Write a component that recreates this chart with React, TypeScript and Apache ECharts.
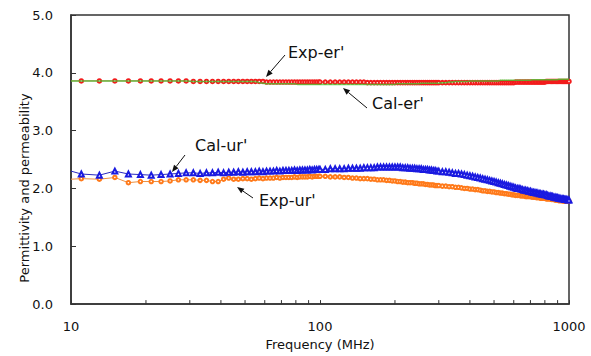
import { useEffect, useRef } from "react";
import * as echarts from "echarts";

// Frequency sweep points (MHz)
const freqMHz = [
  10,
  11, 13, 15, 17, 19, 21, 23, 25, 27, 29,
  31, 33, 35, 37, 39, 41, 43, 45, 47, 49,
  51, 53, 55, 57, 59, 61, 63, 65, 67, 69,
  71, 73, 75, 77, 79, 81, 83, 85, 87, 89,
  91, 93, 95, 97, 99,
  100, 105, 110, 115, 120, 125, 130, 135, 140, 145,
  150, 155, 160, 165, 170, 175, 180, 185, 190, 195,
  200, 205, 210, 215, 220, 225, 230, 235, 240, 245,
  250, 255, 260, 265, 270, 275, 280, 285, 290, 295,
  300,
  310, 320, 330, 340, 350, 360, 370, 380, 390, 400,
  410, 420, 430, 440, 450, 460, 470, 480, 490, 500,
  510, 520, 530, 540, 550, 560, 570, 580, 590, 600,
  610, 620, 630, 640, 650, 660, 670, 680, 690, 700,
  710, 720, 730, 740, 750, 760, 770, 780, 790, 800,
  810, 820, 830, 840, 850, 860, 870, 880, 890, 900,
  910, 920, 930, 940, 950, 960, 970, 980, 990, 1000,
];

const expErP = [
  3.86,
  3.86, 3.86, 3.86, 3.86, 3.86, 3.86, 3.86, 3.86, 3.86, 3.86,
  3.85, 3.85, 3.85, 3.85, 3.85, 3.85, 3.85, 3.85, 3.85, 3.85,
  3.85, 3.85, 3.85, 3.85, 3.85, 3.84, 3.84, 3.84, 3.84, 3.84,
  3.84, 3.84, 3.84, 3.84, 3.84, 3.84, 3.84, 3.84, 3.84, 3.84,
  3.84, 3.84, 3.84, 3.84, 3.84,
  3.84, 3.84, 3.84, 3.84, 3.84, 3.84, 3.84, 3.84, 3.84, 3.84,
  3.84, 3.83, 3.83, 3.83, 3.83, 3.83, 3.83, 3.83, 3.83, 3.83,
  3.83, 3.83, 3.83, 3.83, 3.83, 3.83, 3.83, 3.83, 3.83, 3.83,
  3.83, 3.83, 3.83, 3.83, 3.83, 3.83, 3.83, 3.83, 3.83, 3.83,
  3.83,
  3.83, 3.83, 3.83, 3.83, 3.83, 3.83, 3.83, 3.83, 3.83, 3.83,
  3.83, 3.83, 3.83, 3.83, 3.83, 3.83, 3.83, 3.83, 3.83, 3.83,
  3.83, 3.83, 3.83, 3.83, 3.83, 3.83, 3.83, 3.83, 3.83, 3.83,
  3.84, 3.84, 3.84, 3.84, 3.84, 3.84, 3.84, 3.84, 3.84, 3.84,
  3.84, 3.84, 3.84, 3.84, 3.84, 3.84, 3.84, 3.84, 3.84, 3.84,
  3.85, 3.85, 3.85, 3.85, 3.85, 3.85, 3.85, 3.85, 3.85, 3.85,
  3.85, 3.85, 3.85, 3.85, 3.85, 3.85, 3.85, 3.85, 3.85, 3.85,
];

const calErP = [
  3.86,
  3.86, 3.86, 3.86, 3.86, 3.86, 3.86, 3.86, 3.86, 3.86, 3.86,
  3.85, 3.85, 3.85, 3.85, 3.85, 3.85, 3.85, 3.85, 3.85, 3.85,
  3.85, 3.85, 3.85, 3.83, 3.82, 3.81, 3.81, 3.81, 3.81, 3.81,
  3.81, 3.81, 3.81, 3.81, 3.81, 3.80, 3.80, 3.80, 3.80, 3.80,
  3.80, 3.80, 3.80, 3.80, 3.80,
  3.80, 3.80, 3.80, 3.80, 3.80, 3.80, 3.80, 3.80, 3.80, 3.80,
  3.80, 3.80, 3.80, 3.80, 3.80, 3.80, 3.80, 3.80, 3.80, 3.80,
  3.80, 3.81, 3.81, 3.81, 3.81, 3.81, 3.81, 3.81, 3.81, 3.81,
  3.81, 3.82, 3.82, 3.82, 3.82, 3.82, 3.82, 3.82, 3.82, 3.82,
  3.82,
  3.83, 3.83, 3.84, 3.84, 3.85, 3.85, 3.85, 3.85, 3.85, 3.86,
  3.86, 3.86, 3.86, 3.86, 3.86, 3.86, 3.86, 3.86, 3.86, 3.86,
  3.86, 3.86, 3.87, 3.87, 3.87, 3.87, 3.87, 3.87, 3.87, 3.87,
  3.87, 3.87, 3.87, 3.87, 3.87, 3.87, 3.87, 3.87, 3.87, 3.87,
  3.88, 3.88, 3.88, 3.88, 3.88, 3.88, 3.88, 3.88, 3.88, 3.88,
  3.88, 3.88, 3.88, 3.88, 3.88, 3.88, 3.88, 3.88, 3.88, 3.88,
  3.89, 3.89, 3.89, 3.89, 3.89, 3.89, 3.89, 3.89, 3.89, 3.89,
];

const calUrP = [
  2.30,
  2.25, 2.23, 2.30, 2.25, 2.24, 2.23, 2.24, 2.25, 2.26, 2.27,
  2.27, 2.26, 2.27, 2.27, 2.28, 2.27, 2.28, 2.28, 2.29, 2.28,
  2.29, 2.29, 2.29, 2.30, 2.29, 2.30, 2.30, 2.30, 2.31, 2.30,
  2.31, 2.31, 2.31, 2.31, 2.32, 2.31, 2.32, 2.32, 2.32, 2.32,
  2.33, 2.32, 2.33, 2.33, 2.33,
  2.33, 2.33, 2.34, 2.34, 2.34, 2.34, 2.35, 2.35, 2.35, 2.35,
  2.36, 2.36, 2.36, 2.36, 2.37, 2.37, 2.37, 2.37, 2.37, 2.37,
  2.37, 2.37, 2.37, 2.36, 2.36, 2.36, 2.35, 2.35, 2.35, 2.34,
  2.34, 2.34, 2.33, 2.33, 2.33, 2.32, 2.32, 2.31, 2.31, 2.30,
  2.30,
  2.29, 2.29, 2.28, 2.27, 2.26, 2.26, 2.25, 2.24, 2.23, 2.22,
  2.21, 2.20, 2.19, 2.18, 2.17, 2.16, 2.15, 2.14, 2.13, 2.12,
  2.11, 2.10, 2.09, 2.08, 2.07, 2.06, 2.05, 2.04, 2.03, 2.02,
  2.01, 2.00, 2.00, 1.99, 1.98, 1.97, 1.97, 1.96, 1.95, 1.95,
  1.94, 1.93, 1.93, 1.92, 1.92, 1.91, 1.91, 1.90, 1.90, 1.89,
  1.89, 1.88, 1.87, 1.87, 1.86, 1.86, 1.85, 1.85, 1.84, 1.84,
  1.83, 1.83, 1.82, 1.82, 1.82, 1.81, 1.81, 1.81, 1.80, 1.80,
];

const expUrP = [
  2.16,
  2.17, 2.16, 2.19, 2.10, 2.12, 2.12, 2.12, 2.13, 2.15, 2.15,
  2.15, 2.14, 2.14, 2.12, 2.12, 2.16, 2.18, 2.16, 2.16, 2.17,
  2.17, 2.16, 2.17, 2.18, 2.17, 2.18, 2.18, 2.18, 2.19, 2.18,
  2.19, 2.19, 2.19, 2.19, 2.20, 2.19, 2.20, 2.20, 2.20, 2.20,
  2.21, 2.20, 2.21, 2.21, 2.21,
  2.21, 2.21, 2.20, 2.20, 2.20, 2.19, 2.19, 2.18, 2.18, 2.17,
  2.17, 2.17, 2.16, 2.16, 2.15, 2.15, 2.15, 2.14, 2.14, 2.13,
  2.13, 2.12, 2.12, 2.11, 2.11, 2.10, 2.10, 2.10, 2.09, 2.09,
  2.08, 2.08, 2.08, 2.07, 2.07, 2.06, 2.06, 2.06, 2.05, 2.05,
  2.05,
  2.04, 2.04, 2.03, 2.03, 2.02, 2.02, 2.01, 2.00, 2.00, 1.99,
  1.99, 1.98, 1.98, 1.97, 1.96, 1.96, 1.95, 1.95, 1.94, 1.94,
  1.93, 1.93, 1.92, 1.92, 1.91, 1.91, 1.90, 1.90, 1.89, 1.89,
  1.88, 1.88, 1.88, 1.87, 1.87, 1.87, 1.86, 1.86, 1.86, 1.86,
  1.85, 1.85, 1.85, 1.84, 1.84, 1.84, 1.83, 1.83, 1.83, 1.83,
  1.82, 1.82, 1.82, 1.82, 1.81, 1.81, 1.81, 1.80, 1.80, 1.80,
  1.79, 1.79, 1.79, 1.79, 1.78, 1.78, 1.78, 1.78, 1.78, 1.78,
];

const minorTicksMHz = [20, 30, 40, 50, 60, 70, 80, 90, 200, 300, 400, 500, 600, 700, 800, 900];

const seriesNames = ["Exp-er'", "Cal-er'", "Cal-ur'", "Exp-ur'"];

const FONT = "'DejaVu Sans', 'Liberation Sans', Arial, sans-serif";
const AXIS_COLOR = "#333333";

function toData(ys: number[]) {
  return freqMHz.map((f, i) =>
    i === 0 ? { value: [f, ys[i]], symbol: "none" } : [f, ys[i]]
  );
}

function arrow(x1: number, y1: number, x2: number, y2: number) {
  const ang = Math.atan2(y2 - y1, x2 - x1);
  const len = 7;
  const half = 2.8;
  const bx = x2 - len * Math.cos(ang);
  const by = y2 - len * Math.sin(ang);
  const px = -Math.sin(ang) * half;
  const py = Math.cos(ang) * half;
  return [
    {
      type: "line",
      shape: { x1, y1, x2: bx, y2: by },
      style: { stroke: "#111", lineWidth: 1 },
      silent: true,
    },
    {
      type: "polygon",
      shape: { points: [[x2, y2], [bx + px, by + py], [bx - px, by - py]] },
      style: { fill: "#111" },
      silent: true,
    },
  ];
}

function label(text: string, x: number, y: number) {
  return {
    type: "text",
    x,
    y,
    silent: true,
    style: {
      text,
      font: `16px ${FONT}`,
      fill: "#111",
      align: "left",
      verticalAlign: "middle",
      textAlign: "left",
      textVerticalAlign: "middle",
    },
  };
}

export default function App() {
  const ref = useRef<HTMLDivElement>(null);

  useEffect(() => {
    if (!ref.current) return;
    const chart = echarts.init(ref.current, null, { renderer: "svg" });
    const option: any = {
      animation: false,
      backgroundColor: "#ffffff",
      grid: {
        left: 71,
        right: 22,
        top: 15,
        bottom: 49,
        show: true,
        borderColor: AXIS_COLOR,
        borderWidth: 1.5,
        backgroundColor: "transparent",
      },
      xAxis: {
        type: "log",
        logBase: 10,
        min: 10,
        max: 1000,
        name: "Frequency (MHz)",
        nameLocation: "middle",
        nameGap: 31,
        nameTextStyle: { fontFamily: FONT, fontSize: 13, color: "#111" },
        axisLine: { lineStyle: { color: AXIS_COLOR, width: 1.5 } },
        axisTick: { inside: true, length: 4, lineStyle: { color: AXIS_COLOR } },
        axisLabel: {
          fontFamily: FONT,
          fontSize: 13,
          color: "#111",
          margin: 16,
          formatter: (v: number) => String(Math.round(v)),
        },
        splitLine: { show: false },
      },
      yAxis: {
        type: "value",
        min: 0,
        max: 5,
        interval: 1,
        axisLine: { show: true, lineStyle: { color: AXIS_COLOR, width: 1.5 } },
        axisTick: { show: true, inside: true, length: 5, lineStyle: { color: AXIS_COLOR } },
        axisLabel: {
          fontFamily: FONT,
          fontSize: 13,
          color: "#111",
          margin: 18,
          formatter: (v: number) => v.toFixed(1),
        },
        splitLine: { show: false },
      },
      series: [
        {
          name: seriesNames[0],
          type: "line",
          data: toData(expErP),
          symbol: "emptyCircle",
          symbolSize: 3.5,
          lineStyle: { color: "#c04a2a", width: 1 },
          itemStyle: { color: "#f21c1c", borderColor: "#e62020", borderWidth: 1.2 },
          z: 3,
        },
        {
          name: seriesNames[1],
          type: "line",
          data: toData(calErP),
          showSymbol: false,
          symbol: "none",
          lineStyle: { color: "#40cc30", width: 1.5, opacity: 0.75 },
          itemStyle: { color: "#40cc30" },
          z: 4,
        },
        {
          name: seriesNames[3],
          type: "line",
          data: toData(expUrP),
          symbol: "emptyCircle",
          symbolSize: 3.5,
          lineStyle: { color: "#ee9040", width: 1 },
          itemStyle: { color: "#ff7a1a", borderColor: "#f47a1c", borderWidth: 1.2 },
          z: 3,
        },
        {
          name: seriesNames[2],
          type: "line",
          data: toData(calUrP),
          symbol: "emptyTriangle",
          symbolSize: 5,
          lineStyle: { color: "#2a2ac0", width: 1 },
          itemStyle: { color: "#1a1ae0", borderColor: "#1a1ae0", borderWidth: 1.1 },
          z: 4,
        },
        {
          type: "custom",
          silent: true,
          clip: false,
          z: 10,
          data: minorTicksMHz.map((f) => [f, 0]),
          encode: { x: 0, y: 1 },
          renderItem: (_params: any, api: any) => {
            const p = api.coord([api.value(0), api.value(1)]);
            return {
              type: "line",
              shape: { x1: p[0], y1: p[1], x2: p[0], y2: p[1] - 4 },
              style: { stroke: AXIS_COLOR, lineWidth: 1 },
            };
          },
        },
      ],
      graphic: [
        {
          type: "text",
          x: 24,
          y: 188,
          rotation: Math.PI / 2,
          silent: true,
          style: {
            text: "Permittivity and permeability",
            font: `13px ${FONT}`,
            fill: "#111",
            align: "center",
            verticalAlign: "middle",
            textAlign: "center",
            textVerticalAlign: "middle",
          },
        },
        label(seriesNames[0], 288, 52),
        label(seriesNames[1], 372, 103),
        label(seriesNames[2], 195, 145),
        label(seriesNames[3], 259, 200),
        ...arrow(285, 55, 266, 77),
        ...arrow(367, 108, 343, 88),
        ...arrow(185, 155, 172, 172),
        ...arrow(253, 198, 237, 187),
      ],
    };
    chart.setOption(option);
    return () => chart.dispose();
  }, []);

  return (
    <div
      ref={ref}
      style={{ position: "fixed", left: 0, top: 0, width: 591, height: 356, background: "#fff" }}
    />
  );
}
